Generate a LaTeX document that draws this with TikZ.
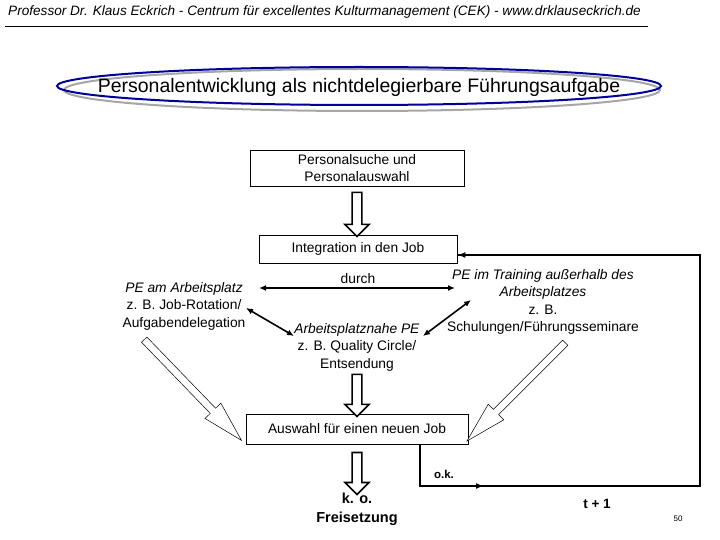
\documentclass[tikz,border=0pt]{standalone}
\usepackage{fontspec}
\setmainfont{Liberation Sans}
\usetikzlibrary{shapes.arrows,arrows.meta}
\begin{document}
\begin{tikzpicture}[x=1pt,y=-1pt,
  txt/.style={font=\fontsize{13.8}{17.5}\selectfont,align=center,inner sep=1pt},
  box/.style={draw,line width=0.8pt,txt,inner sep=0pt},
  hol/.style={single arrow,draw,line width=1.6pt,fill=white,anchor=center},
  thin hol/.style={single arrow,draw,line width=0.5pt,fill=white,anchor=center},
  dbl/.style={{Latex[length=7pt,width=6pt]}-{Latex[length=7pt,width=6pt]},line width=1.6pt},
  fb/.style={line width=1.6pt}]
\useasboundingbox (0,0) rectangle (720,540);
\node[font=\fontsize{13.6}{15}\itshape\selectfont,anchor=west,inner sep=0pt] (hdr) at (8,12) {Professor Dr. Klaus Eckrich - Centrum für excellentes Kulturmanagement (CEK) - www.drklauseckrich.de};
\draw[line width=0.5pt] (5,26) -- (648,26);
\draw[gray!70,line width=2pt] (362,90) ellipse [x radius=298,y radius=21];
\draw[blue!60!black,line width=2pt] (359,86) ellipse [x radius=302,y radius=19];
\node[font=\fontsize{19.5}{21}\selectfont] (title) at (359,87) {Personalentwicklung als nichtdelegierbare Führungsaufgabe};
\node[box,minimum width=214pt,minimum height=36pt] (such) at (357,168) {Personalsuche und\\Personalauswahl};
\node[box,minimum width=198pt,minimum height=28pt] (integ) at (358,249) {Integration in den Job};
\node[hol,minimum width=24pt,minimum height=44pt,single arrow head extend=6pt,rotate=-90] (a1) at (357,212) {};
\node[txt] (durch) at (358,279) {durch};
\node[txt] (left) at (184,306) {\textit{PE am Arbeitsplatz}\\z. B. Job-Rotation/\\Aufgabendelegation};
\node[txt] (mid) at (357,347) {\textit{Arbeitsplatznahe PE}\\z. B. Quality Circle/\\Entsendung};
\node[txt] (right) at (543,302) {\textit{PE im Training außerhalb des}\\\textit{Arbeitsplatzes}\\z. B.\\Schulungen/Führungsseminare};
\coordinate (d1) at (259,288); \coordinate (d2) at (455,288);
\draw[dbl] (d1) -- (d2);
\coordinate (l1) at (246,308); \coordinate (l2) at (294,336);
\draw[dbl] (l1) -- (l2);
\coordinate (r1) at (471,300); \coordinate (r2) at (423,336);
\draw[dbl] (r1) -- (r2);
\node[box,minimum width=222pt,minimum height=30pt] (aus) at (357,429) {Auswahl für einen neuen Job};
\node[hol,minimum width=24pt,minimum height=42pt,single arrow head extend=6pt,rotate=-90] (a2) at (357,393) {};
\node[hol,minimum width=24pt,minimum height=42pt,single arrow head extend=6pt,rotate=-90] (a3) at (357,471) {};
\node[thin hol,minimum width=22pt,minimum height=140pt,single arrow head extend=7pt,single arrow tip angle=30,rotate=-46] (a4) at (188,385) {};
\node[thin hol,minimum width=22pt,minimum height=139pt,single arrow head extend=7pt,single arrow tip angle=30,rotate=-135] (a5) at (521,387) {};
\node[font=\fontsize{14.5}{19}\bfseries\selectfont,align=center] (ko) at (357,509) {k. o.\\Freisetzung};
\node[font=\fontsize{11.5}{13}\bfseries\selectfont] (ok) at (444,474) {o.k.};
\node[font=\fontsize{13.5}{15}\bfseries\selectfont] (t1) at (597,504) {t + 1};
\node[font=\fontsize{8}{9}\selectfont] (pg) at (678,519) {50};
\coordinate (c1) at (420,486); \coordinate (c2) at (700,486); \coordinate (c3) at (700,255);
\draw[fb] (aus.south -| c1) -- (c1) -- (c2) -- (c3) -- (integ.east |- c3);
\draw[fb,-{Latex[length=8pt,width=6pt]}] (c1) -- (484,486);
\draw[fb,-{Latex[length=8pt,width=6pt]}] (c3) -- (integ.east |- c3);
\end{tikzpicture}
\end{document}
